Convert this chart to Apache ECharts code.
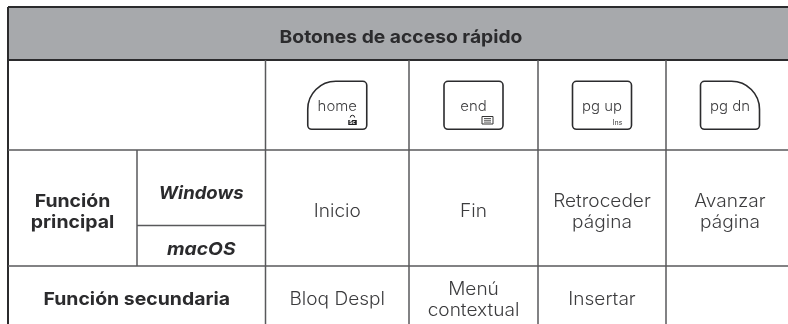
<!DOCTYPE html>
<html>
<head>
<meta charset="utf-8">
<style>
  html, body { margin: 0; padding: 0; background: #fff; }
  #chart { width: 788px; height: 324px; }
</style>
</head>
<body>
<div id="chart"></div>
<script src="https://cdn.jsdelivr.net/npm/echarts@6/dist/echarts.min.js"></script>
<script>
  // contenido de la tabla
  const title = 'Botones de acceso rápido';
  const keyLabels = ['home', 'end', 'pg up', 'pg dn'];
  const rowPrincipal = 'Función\nprincipal';
  const rowSecundaria = 'Función secundaria';
  const osLabels = ['Windows', 'macOS'];
  const principalValues = ['Inicio', 'Fin', 'Retroceder\npágina', 'Avanzar\npágina'];
  const secundariaValues = ['Bloq Despl', 'Menú\ncontextual', 'Insertar', ''];

  // bordes de columnas y filas (la tabla sale cortada a la derecha y abajo)
  const colX = [8, 137, 265.5, 409, 538, 666, 794];
  const rowY = [7, 60, 150, 266, 326];
  const osSplitY = 225.5;

  const FONT = 'Inter, "Noto Sans", sans-serif';
  const TEXT = '#3c3c3e';
  const DARK = '#2b2b2d';
  const LINE = '#58595b';

  const chart = echarts.init(document.getElementById('chart'), null, { renderer: 'canvas' });
  const els = [];

  function line(x1, y1, x2, y2, color, width) {
    els.push({
      type: 'line',
      shape: { x1, y1, x2, y2 },
      style: { stroke: color, lineWidth: width },
      z: 5,
    });
  }

  // el texto original es mas ancho que Inter, se estira un poco con scaleX
  function label(text, x, y, opt, scaleX) {
    els.push({
      type: 'text',
      x,
      y,
      scaleX: scaleX || 1.06,
      z: 10,
      style: Object.assign(
        {
          text,
          fontFamily: FONT,
          fontSize: 18,
          fontWeight: 300,
          lineHeight: 21.5,
          fill: TEXT,
          align: 'center',
          verticalAlign: 'middle',
        },
        opt || {}
      ),
    });
  }

  function midX(a, b) {
    return (colX[a] + colX[b]) / 2;
  }
  function midY(a, b) {
    return (rowY[a] + rowY[b]) / 2 + 4;
  }

  // cabecera gris
  els.push({
    type: 'rect',
    shape: { x: colX[0], y: rowY[0], width: 788 - colX[0], height: rowY[1] - rowY[0] },
    style: { fill: '#a7a9ac' },
    z: 1,
  });
  label(title, midX(0, 6), midY(0, 1), { fontSize: 18, fontWeight: 700, fill: DARK }, 1.07);

  // lineas
  line(colX[0], rowY[0], 788, rowY[0], DARK, 2);
  line(colX[0], rowY[1], 788, rowY[1], DARK, 2);
  line(colX[0], rowY[0], colX[0], 324, DARK, 2);
  line(colX[0], rowY[2], 788, rowY[2], LINE, 1.5);
  line(colX[0], rowY[3], 788, rowY[3], LINE, 1.5);
  line(colX[1], rowY[2], colX[1], rowY[3], LINE, 1.5);
  line(colX[1], osSplitY, colX[2], osSplitY, LINE, 1.5);
  for (let i = 2; i < 6; i++) {
    line(colX[i], rowY[1], colX[i], 324, LINE, 1.5);
  }

  // teclas
  const keyW = 59;
  const keyH = 48;
  const keyRadius = [
    [28, 4, 4, 4],
    [4, 4, 4, 4],
    [4, 4, 4, 4],
    [4, 28, 4, 4],
  ];
  keyLabels.forEach((k, i) => {
    const cx = midX(i + 2, i + 3);
    els.push({
      type: 'rect',
      shape: { x: cx - keyW / 2, y: 81.3, width: keyW, height: keyH, r: keyRadius[i] },
      style: { fill: '#fff', stroke: DARK, lineWidth: 1.6 },
      z: 6,
    });
    label(k, cx, 106.5, { fontSize: 14.5 }, 1.03);
  });

  // iconos pequeños de las teclas
  const homeX = midX(2, 3);
  els.push({
    type: 'rect',
    shape: { x: homeX + 11, y: 120, width: 8.5, height: 5 },
    style: { fill: '#1d1d1f' },
    z: 8,
  });
  els.push({
    type: 'arc',
    shape: { cx: homeX + 15.2, cy: 117.5, r: 2.2, startAngle: Math.PI, endAngle: 0 },
    style: { fill: 'none', stroke: '#1d1d1f', lineWidth: 1 },
    z: 8,
  });
  label('Sc', homeX + 15.2, 122.6, { fontSize: 5, fontWeight: 700, fill: '#fff', lineHeight: 5 }, 1);
  const endX = midX(3, 4);
  els.push({
    type: 'rect',
    shape: { x: endX + 8.5, y: 116.5, width: 11, height: 7.5 },
    style: { fill: '#fff', stroke: '#333', lineWidth: 1 },
    z: 8,
  });
  [118.5, 120.3, 122.1].forEach((y) => {
    els.push({
      type: 'line',
      shape: { x1: endX + 10.5, y1: y, x2: endX + 17.5, y2: y },
      style: { stroke: '#333', lineWidth: 0.8 },
      z: 9,
    });
  });
  label('Ins', midX(4, 5) + 15.5, 122.5, { fontSize: 7, fontWeight: 400 }, 1);

  // primera columna
  const boldStyle = { fontSize: 18, fontWeight: 700, fill: DARK };
  const italicStyle = { fontSize: 18, fontWeight: 700, fontStyle: 'italic', fill: DARK };
  label(rowPrincipal, midX(0, 1), midY(2, 3), boldStyle, 1.08);
  label(osLabels[0], midX(1, 2), (rowY[2] + osSplitY) / 2 + 5.5, italicStyle, 1.03);
  label(osLabels[1], midX(1, 2), (osSplitY + rowY[3]) / 2 + 4, italicStyle, 1.07);
  label(rowSecundaria, midX(0, 2), midY(3, 4), boldStyle, 1.08);

  // valores
  principalValues.forEach((t, i) => {
    label(t, midX(i + 2, i + 3), midY(2, 3));
  });
  secundariaValues.forEach((t, i) => {
    if (t) label(t, midX(i + 2, i + 3), midY(3, 4));
  });

  chart.setOption({
    animation: false,
    backgroundColor: '#fff',
    graphic: { elements: els },
  });
</script>
</body>
</html>
